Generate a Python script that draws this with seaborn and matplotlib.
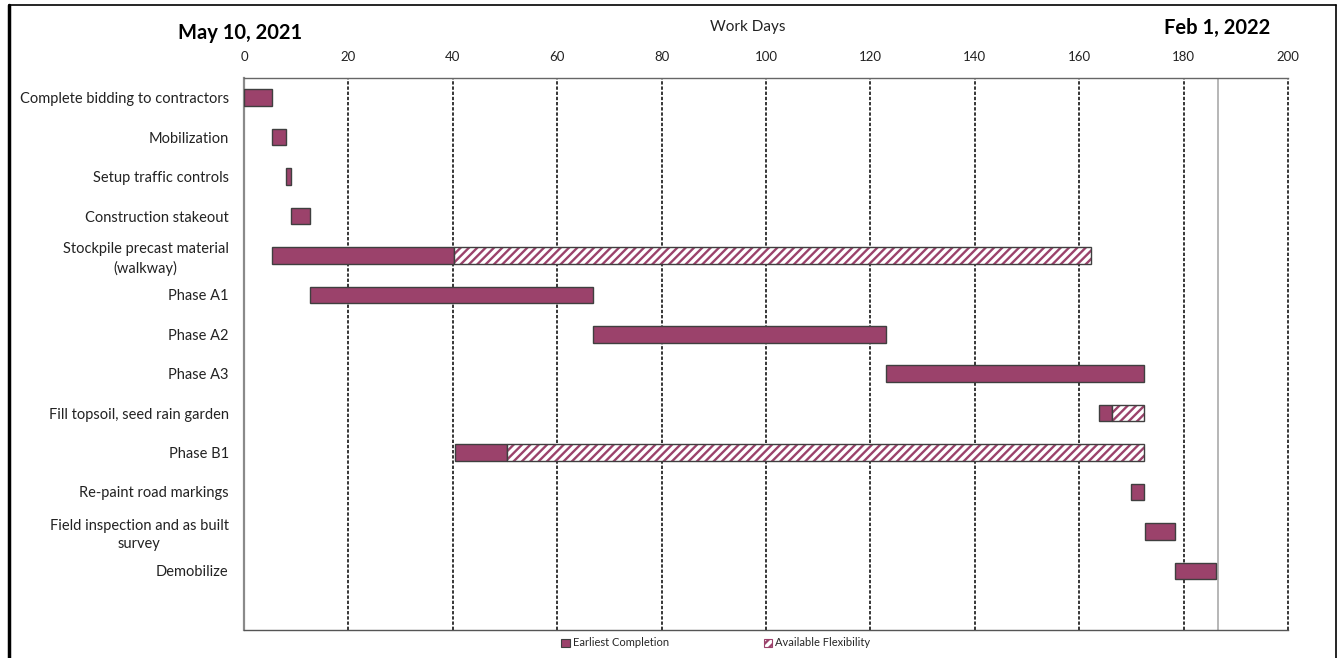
import matplotlib
matplotlib.use("Agg")
import matplotlib.pyplot as plt
from matplotlib.lines import Line2D
from matplotlib.patches import Patch
import pandas as pd
import seaborn as sns

# Schedule data (work days from project start)
tasks = [
    "Complete bidding to contractors",
    "Mobilization",
    "Setup traffic controls",
    "Construction stakeout",
    "Stockpile precast material\n(walkway)",
    "Phase A1",
    "Phase A2",
    "Phase A3",
    "Fill topsoil, seed rain garden",
    "Phase B1",
    "Re-paint road markings",
    "Field inspection and as built\nsurvey",
    "Demobilize",
]
start_day = [0, 5.4, 8.0, 9.0, 5.4, 12.7, 66.8, 123.0, 163.7, 40.4, 170.0, 172.6, 178.4]
earliest_end = [5.4, 8.0, 9.0, 12.7, 40.3, 66.8, 123.0, 172.4, 166.2, 50.4, 172.4, 178.4, 186.3]

flex_tasks = ["Stockpile precast material\n(walkway)", "Fill topsoil, seed rain garden", "Phase B1"]
flex_start = [40.3, 166.2, 50.4]
flex_end = [162.3, 172.4, 172.4]

completion_day = 186.5
x_ticks = [0, 20, 40, 60, 80, 100, 120, 140, 160, 180, 200]
start_label = "May 10, 2021"
end_label = "Feb 1, 2022"
axis_title = "Work Days"
legend_labels = ["Earliest Completion", "Available Flexibility"]

PLUM = "#9b426b"
EDGE = "#3f3f3f"

sns.set_theme(style="white")
plt.rcParams["font.family"] = ["Lato", "DejaVu Sans"]
plt.rcParams["hatch.linewidth"] = 1.7

fig = plt.figure(figsize=(13.44, 6.58), dpi=100)
ax = fig.add_axes([244 / 1344, 1 - 630 / 658, 1044 / 1344, 552 / 658])

main_df = pd.DataFrame({
    "task": tasks,
    "days": [e - s for s, e in zip(start_day, earliest_end)],
})
flex_df = pd.DataFrame({
    "task": flex_tasks,
    "days": [e - s for s, e in zip(flex_start, flex_end)],
})

# Earliest completion segments
sns.barplot(data=main_df, y="task", x="days", order=tasks, orient="h",
            left=start_day, color=PLUM, saturation=1, width=0.42,
            edgecolor=EDGE, linewidth=1.0, errorbar=None, ax=ax, zorder=3)

# Flexibility segments: hatched fill, then outline
sns.barplot(data=flex_df, y="task", x="days", order=tasks, orient="h",
            left=flex_start, color="white", saturation=1, width=0.42,
            linewidth=0, errorbar=None, ax=ax, zorder=3)
for bar in ax.containers[-1]:
    bar.set_facecolor("white")
    bar.set_edgecolor(PLUM)
    bar.set_hatch("////")
    bar.set_linewidth(0)
sns.barplot(data=flex_df, y="task", x="days", order=tasks, orient="h",
            left=flex_start, color=EDGE, fill=False, width=0.42,
            linewidth=1.0, errorbar=None, ax=ax, zorder=4)

# Dashed day gridlines and completion marker
for t in x_ticks[1:]:
    ax.axvline(t, color="black", linestyle=(0, (2.2, 1.2)), linewidth=1.1,
               zorder=1, clip_on=False)
ax.axvline(completion_day, color="#aaaaaa", linewidth=1.2, zorder=1)

ax.set_xlim(0, 200)
ax.set_ylim(len(tasks) + 0.5, -0.5)
ax.set_xticks(x_ticks)
ax.xaxis.tick_top()
ax.tick_params(axis="x", length=0, pad=11, labelsize=9.5, colors="#222222")
ax.tick_params(axis="y", length=0, pad=11, labelsize=10.5, colors="#222222")
for lbl in ax.get_yticklabels():
    lbl.set_multialignment("center")
    lbl.set_linespacing(1.35)
ax.set_xlabel("")
ax.set_ylabel("")

for side in ["left", "top", "bottom"]:
    ax.spines[side].set_visible(True)
ax.spines["left"].set_color("#8a8a8a")
ax.spines["left"].set_linewidth(1.6)
ax.spines["top"].set_color("#666666")
ax.spines["top"].set_linewidth(1.0)
ax.spines["bottom"].set_color("#555555")
ax.spines["bottom"].set_linewidth(1.0)
ax.spines["right"].set_visible(False)

fig.text(748 / 1344, 1 - 27 / 658, axis_title, ha="center", va="center",
         fontsize=11, color="#222222")
fig.text(240 / 1344, 1 - 33 / 658, start_label, ha="center", va="center",
         fontsize=14.5, fontweight="bold", color="black")
fig.text(1217 / 1344, 1 - 28 / 658, end_label, ha="center", va="center",
         fontsize=14.5, fontweight="bold", color="black")

handles = [
    Patch(facecolor=PLUM, edgecolor=EDGE, linewidth=0.8),
    Patch(facecolor="white", edgecolor=PLUM, hatch="////", linewidth=0.8),
]
fig.legend(handles, legend_labels, loc="center", ncol=2,
           bbox_to_anchor=(716 / 1344, 1 - 643 / 658), frameon=False,
           fontsize=8, handlelength=0.75, handleheight=0.75,
           handletextpad=0.3, columnspacing=8.5)

# Outer frame
fig.add_artist(Line2D([9 / 1344, 9 / 1344], [0, 1 - 5 / 658],
                      transform=fig.transFigure, color="black", linewidth=2.5))
fig.add_artist(Line2D([9 / 1344, 1336 / 1344], [1 - 5 / 658, 1 - 5 / 658],
                      transform=fig.transFigure, color="black", linewidth=1.2))
fig.add_artist(Line2D([1336 / 1344, 1336 / 1344], [1 - 5 / 658, 0],
                      transform=fig.transFigure, color="black", linewidth=1.2))

fig.savefig("out.png", dpi=100, facecolor="white")
